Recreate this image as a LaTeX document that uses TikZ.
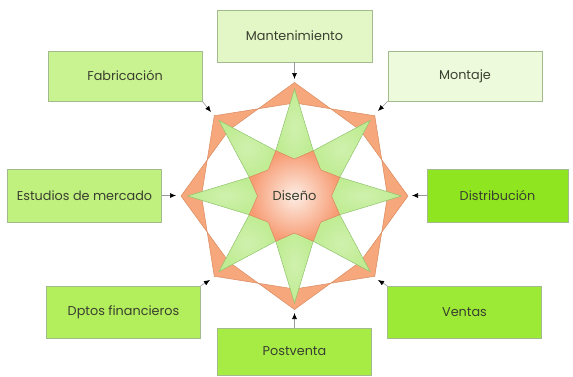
\documentclass[tikz,border=0pt]{standalone}
\usepackage{fontspec}
\setmainfont{Poppins}
\usetikzlibrary{arrows.meta}
\definecolor{orF}{HTML}{F6A87C}
\definecolor{orD}{HTML}{D98A5E}
\definecolor{grF}{HTML}{BFEC92}
\definecolor{grD}{HTML}{8FC26C}
\definecolor{txt}{HTML}{3A3F30}
\definecolor{bd}{HTML}{A3B98E}
\definecolor{bMant}{HTML}{E2F7C5}
\definecolor{bMont}{HTML}{EDFADB}
\definecolor{bFab}{HTML}{C9F290}
\definecolor{bEst}{HTML}{C0F07E}
\definecolor{bDist}{HTML}{8FE620}
\definecolor{bDpt}{HTML}{B3EE5C}
\definecolor{bVen}{HTML}{9DEA36}
\definecolor{bPost}{HTML}{A6EC45}
\tikzset{
  box/.style={draw=bd, line width=0.6pt, inner sep=0pt, text=txt, font=\fontsize{12.8}{15}\selectfont},
  conn/.style={draw=gray!80, line width=0.6pt, -{Latex[length=6pt,width=5pt,black]}},
  wing/.style={fill=orF, draw=orD, line width=0.5pt, line join=miter},
  spike/.style={draw=grD, line width=0.5pt, inner color=grF!75!white, outer color=grF},
  cstar/.style={draw=orD, line width=0.5pt, inner color=white!80!orF, outer color=orF!92!red}
}
\begin{document}
\begin{tikzpicture}[x=1pt,y=-1pt]
\useasboundingbox (0,0) rectangle (573,376);
\coordinate (c) at (294.5,196);
\begin{scope}[shift={(294.5,196)}]
% orange wings
\foreach \a in {0,45,...,315}{
  \filldraw[wing] (\a:113.5) -- (\a+22.5:94.45) -- (\a:93) -- (\a-22.5:94.45) -- cycle;
}
% green spikes
\foreach \a in {0,45,...,315}{
  \path[spike] (\a:107) -- (\a+22.5:49) -- (\a:30) -- (\a-22.5:49) -- cycle;
}
% central star
\path[cstar] (0:37) \foreach \a in {22.5,67.5,...,337.5}{ -- (\a:49) -- (\a+22.5:37)} -- cycle;
\end{scope}
\node[text=txt, font=\fontsize{13}{15}\selectfont] (dis) at (c) {Diseño};
% boxes
\node[box, fill=bMant, minimum width=155pt, minimum height=52pt] (mant) at (294.5,36) {Mantenimiento};
\node[box, fill=bFab, minimum width=154pt, minimum height=50pt] (fab) at (125,76) {Fabricación};
\node[box, fill=bMont, minimum width=154pt, minimum height=50pt] (mont) at (465,76) {Montaje};
\node[box, fill=bEst, minimum width=154pt, minimum height=53pt] (est) at (84.5,195.5) {Estudios de mercado};
\node[box, fill=bDist, minimum width=141pt, minimum height=53pt] (dist) at (497.5,195.5) {Distribución};
\node[box, fill=bDpt, minimum width=154pt, minimum height=52pt] (dpt) at (123.5,312) {Dptos financieros};
\node[box, fill=bVen, minimum width=154pt, minimum height=52pt] (ven) at (464.5,312) {Ventas};
\node[box, fill=bPost, minimum width=154pt, minimum height=47pt] (post) at (294.5,351.5) {Postventa};
% arrow end points
\coordinate (aN) at (294.5,79);
\coordinate (aS) at (294.5,313);
\coordinate (aW) at (176,195.5);
\coordinate (aE) at (412,195.5);
\coordinate (aNW) at (211,112);
\coordinate (aNE) at (378,111);
\coordinate (aSW) at (210,280);
\coordinate (aSE) at (378,280);
\draw[conn] (mant.south) -- (aN);
\draw[conn] (post.north) -- (aS);
\draw[conn] (est.east) -- (aW);
\draw[conn] (dist.west) -- (aE);
\draw[conn] (fab.south east) -- (aNW);
\draw[conn] (mont.south west) -- (aNE);
\draw[conn] (dpt.north east) -- (aSW);
\draw[conn] (ven.north west) -- (aSE);
\end{tikzpicture}
\end{document}
